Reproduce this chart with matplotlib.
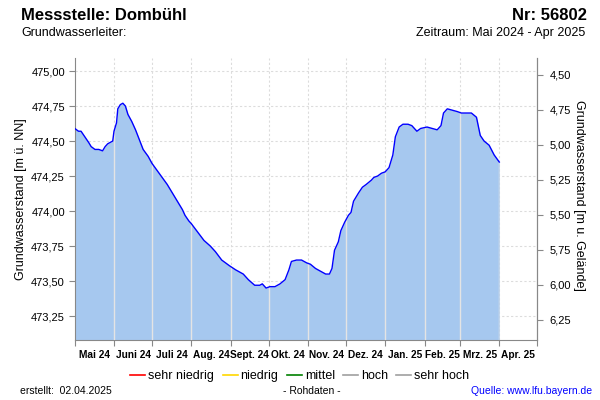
import numpy as np
import pandas as pd
import matplotlib
matplotlib.use("Agg")
import matplotlib.pyplot as plt
import matplotlib.dates as mdates
from matplotlib.lines import Line2D
from matplotlib.ticker import FuncFormatter, FixedLocator

plt.rcParams['font.family'] = ['Liberation Sans', 'DejaVu Sans']

dates = ['2024-05-01', '2024-05-04', '2024-05-06', '2024-05-09', '2024-05-12', '2024-05-14',
         '2024-05-17', '2024-05-20', '2024-05-23', '2024-05-25', '2024-05-27', '2024-05-31',
         '2024-06-01', '2024-06-03', '2024-06-04', '2024-06-06', '2024-06-08', '2024-06-10',
         '2024-06-12', '2024-06-15', '2024-06-18', '2024-06-21', '2024-06-24', '2024-06-28',
         '2024-07-01', '2024-07-05', '2024-07-09', '2024-07-13', '2024-07-17', '2024-07-21',
         '2024-07-25', '2024-07-27', '2024-07-30', '2024-08-01', '2024-08-06', '2024-08-11',
         '2024-08-16', '2024-08-20', '2024-08-25', '2024-08-31', '2024-09-05', '2024-09-11',
         '2024-09-15', '2024-09-20', '2024-09-24', '2024-09-26', '2024-09-29', '2024-10-02',
         '2024-10-06', '2024-10-10', '2024-10-14', '2024-10-17', '2024-10-19', '2024-10-23',
         '2024-10-27', '2024-10-31', '2024-11-03', '2024-11-07', '2024-11-11', '2024-11-15',
         '2024-11-18', '2024-11-20', '2024-11-22', '2024-11-25', '2024-11-27', '2024-11-30',
         '2024-12-03', '2024-12-05', '2024-12-07', '2024-12-11', '2024-12-14', '2024-12-17',
         '2024-12-21', '2024-12-23', '2024-12-26', '2024-12-29', '2025-01-01', '2025-01-04',
         '2025-01-07', '2025-01-09', '2025-01-12', '2025-01-15', '2025-01-19', '2025-01-22',
         '2025-01-26', '2025-01-29', '2025-02-03', '2025-02-07', '2025-02-11', '2025-02-14',
         '2025-02-16', '2025-02-19', '2025-02-23', '2025-02-27', '2025-03-02', '2025-03-10',
         '2025-03-14', '2025-03-17', '2025-03-20', '2025-03-24', '2025-03-28', '2025-04-01']
levels = [474.59, 474.57, 474.57, 474.53, 474.49, 474.46,
          474.44, 474.44, 474.43, 474.46, 474.48, 474.50,
          474.57, 474.63, 474.73, 474.76, 474.77, 474.75,
          474.69, 474.64, 474.58, 474.51, 474.44, 474.39,
          474.34, 474.29, 474.24, 474.19, 474.13, 474.07,
          474.01, 473.97, 473.93, 473.91, 473.85, 473.79,
          473.75, 473.71, 473.65, 473.61, 473.58, 473.55,
          473.51, 473.47, 473.47, 473.48, 473.45, 473.46,
          473.46, 473.48, 473.51, 473.58, 473.64, 473.65,
          473.65, 473.63, 473.62, 473.59, 473.57, 473.55,
          473.55, 473.59, 473.72, 473.78, 473.86, 473.92,
          473.97, 473.99, 474.07, 474.13, 474.17, 474.19,
          474.22, 474.24, 474.25, 474.27, 474.28, 474.31,
          474.40, 474.53, 474.60, 474.62, 474.62, 474.61,
          474.57, 474.59, 474.60, 474.59, 474.58, 474.61,
          474.70, 474.73, 474.72, 474.71, 474.70, 474.70,
          474.67, 474.54, 474.50, 474.47, 474.40, 474.35]

month_labels = ['Mai 24', 'Juni 24', 'Juli 24', 'Aug. 24', 'Sept. 24', 'Okt. 24',
                'Nov. 24', 'Dez. 24', 'Jan. 25', 'Feb. 25', 'Mrz. 25', 'Apr. 25']
left_ticks = [473.25, 473.50, 473.75, 474.00, 474.25, 474.50, 474.75, 475.00]
right_ticks = [4.50, 4.75, 5.00, 5.25, 5.50, 5.75, 6.00, 6.25]
gelaende = 479.475  # Geländehöhe m ü. NN
legend_names = ['sehr niedrig', 'niedrig', 'mittel', 'hoch', 'sehr hoch']
legend_colors = ['#ff0000', '#ffd700', '#008000', '#a0a0a0', '#a0a0a0']

x = pd.to_datetime(dates)
y = np.array(levels)
ymin, ymax = 473.079, 475.093

W, H = 600, 400
fig = plt.figure(figsize=(6, 4), dpi=100)
ax = fig.add_axes([74.7 / W, 1 - 340 / H, (537.3 - 74.7) / W, (340 - 58) / H])

month_starts = pd.date_range('2024-05-01', periods=13, freq='MS')
mids = month_starts[:-1] + (month_starts[1:] - month_starts[:-1]) / 2

ax.set_xlim(month_starts[0], month_starts[-1])
ax.set_ylim(ymin, ymax)

# grid
gridkw = dict(color='#dcdcdc', lw=0.8, dashes=(2, 2), zorder=0)
for t in left_ticks:
    ax.axhline(t, **gridkw)
for m in month_starts[1:-1]:
    ax.axvline(m, **gridkw)

poly = ax.fill_between(x, y, ymin, color='#a6c8ef', lw=0, zorder=1)
ax.plot(x, y, color='#0000ff', lw=1.0, zorder=4)

clip = poly.get_paths()[0]
for m in month_starts[1:-1]:
    ln = ax.axvline(m, color='#e4e4e4', lw=1.0, zorder=3)
    ln.set_clip_path(clip, transform=ax.transData)

# axes styling
for s in ['left', 'right', 'bottom']:
    ax.spines[s].set_color('#888888')
ax.spines['top'].set_visible(False)

ax.xaxis.set_major_locator(FixedLocator(mdates.date2num(month_starts)))
ax.xaxis.set_major_formatter(FuncFormatter(lambda v, p: ''))
ax.xaxis.set_minor_locator(FixedLocator(mdates.date2num(mids)))
ax.set_xticklabels(month_labels, minor=True, fontweight='bold')
ax.tick_params(axis='x', which='major', length=4, color='#888888')
ax.tick_params(axis='x', which='minor', length=0, pad=7, labelsize=7.3)

ax.set_yticks(left_ticks)
ax.yaxis.set_major_formatter(FuncFormatter(lambda v, p: f'{v:.2f}'.replace('.', ',')))
ax.tick_params(axis='y', length=4, color='#888888', labelsize=8, pad=3)

sec = ax.secondary_yaxis('right', functions=(lambda v: gelaende - v, lambda d: gelaende - d))
sec.set_yticks(right_ticks)
sec.yaxis.set_major_formatter(FuncFormatter(lambda v, p: f'{v:.2f}'.replace('.', ',')))
sec.tick_params(axis='y', length=4, color='#888888', labelsize=8, pad=5)
sec.spines['right'].set_color('#888888')

fig.text(21 / W, 1 - 199 / H, 'Grundwasserstand [m ü. NN]', rotation=90,
         ha='center', va='center', fontsize=9)
fig.text(579 / W, 1 - 195 / H, 'Grundwasserstand [m u. Gelände]', rotation=270,
         ha='center', va='center', fontsize=9)

# header
fig.text(21 / W, 1 - 20 / H, 'Messstelle: Dombühl', fontsize=12, fontweight='bold',
         ha='left', va='baseline')
fig.text(587 / W, 1 - 20 / H, 'Nr: 56802', fontsize=12, fontweight='bold',
         ha='right', va='baseline')
fig.text(21 / W, 1 - 36 / H, 'Grundwasserleiter:', fontsize=9, ha='left', va='baseline')
fig.text(585 / W, 1 - 36 / H, 'Zeitraum: Mai 2024 - Apr 2025', fontsize=9,
         ha='right', va='baseline')

# legend
handles = [Line2D([], [], color=c, lw=1.2) for c in legend_colors]
fig.legend(handles, legend_names, loc='center', bbox_to_anchor=(0.5, 1 - 376 / H),
           ncol=5, frameon=False, fontsize=9, handlelength=1.2, handletextpad=0.25,
           columnspacing=0.65, borderpad=0)

# footer
fig.text(20 / W, 1 - 391 / H, 'erstellt:  02.04.2025', fontsize=7.5, ha='left', va='center')
fig.text(312 / W, 1 - 391 / H, '- Rohdaten -', fontsize=7.5, ha='center', va='center')
fig.text(592 / W, 1 - 391 / H, 'Quelle: www.lfu.bayern.de', fontsize=7.5, ha='right',
         va='center', color='#0000ff')

fig.savefig('out.png', dpi=100)
